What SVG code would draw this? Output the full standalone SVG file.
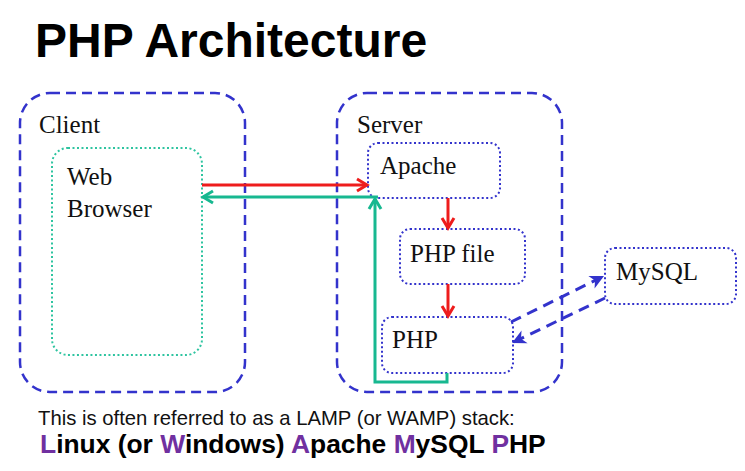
<svg xmlns="http://www.w3.org/2000/svg" width="745" height="471" viewBox="0 0 745 471">
<style>
.group{fill:none;stroke:#3333CC;stroke-width:2.5;stroke-dasharray:10 6}
.node{fill:#fff;stroke:#3333CC;stroke-width:2;stroke-dasharray:2 2.5}
.browser{fill:#fff;stroke:#2EC4A0;stroke-width:2;stroke-dasharray:2 2.5}
.lbl{font-family:"Liberation Serif","Times New Roman",serif;font-size:25px;fill:#111}
.red{fill:none;stroke:#EE1C1C;stroke-width:3;marker-end:url(#ar)}
.teal{fill:none;stroke:#17B890;stroke-width:3;marker-end:url(#at)}
.blue{fill:none;stroke:#3333CC;stroke-width:3;stroke-dasharray:11 7;marker-end:url(#ab)}
.sans{font-family:"Liberation Sans",Arial,sans-serif}
.pu{fill:#7030A0}
</style>
<defs>
<marker id="ar" viewBox="0 0 16 16" refX="13" refY="8" markerWidth="16" markerHeight="16" markerUnits="userSpaceOnUse" orient="auto">
<path d="M3,2 L13,8 L3,14" fill="none" stroke="#EE1C1C" stroke-width="3"/>
</marker>
<marker id="at" viewBox="0 0 16 16" refX="13" refY="8" markerWidth="16" markerHeight="16" markerUnits="userSpaceOnUse" orient="auto">
<path d="M3,2 L13,8 L3,14" fill="none" stroke="#17B890" stroke-width="3"/>
</marker>
<marker id="ab" viewBox="0 0 16 16" refX="15" refY="8" markerWidth="16" markerHeight="16" markerUnits="userSpaceOnUse" orient="auto">
<path d="M1,1 L15,8 L1,15 L5,8 Z" fill="#3333CC"/>
</marker>
</defs>
<rect width="745" height="471" fill="#fff"/>
<text x="35" y="57" class="sans" font-size="48" font-weight="bold" fill="#000">PHP Architecture</text>

<g id="client">
<rect class="group" x="20" y="93" width="225" height="299" rx="30"/>
<text class="lbl" x="39" y="133">Client</text>
</g>
<g id="server">
<rect class="group" x="337" y="93" width="225" height="299" rx="30"/>
<text class="lbl" x="357" y="133">Server</text>
</g>
<g id="browser">
<rect class="browser" x="52" y="148" width="150" height="207" rx="16"/>
<text class="lbl" x="67" y="185">Web</text>
<text class="lbl" x="67" y="217">Browser</text>
</g>
<g id="apache">
<rect class="node" x="368" y="143" width="132" height="55" rx="10"/>
<text class="lbl" x="380" y="174">Apache</text>
</g>
<g id="phpfile">
<rect class="node" x="400" y="229" width="125" height="55" rx="10"/>
<text class="lbl" x="410" y="262">PHP file</text>
</g>
<g id="php">
<rect class="node" x="382" y="317" width="131" height="56" rx="10"/>
<text class="lbl" x="392" y="348">PHP</text>
</g>
<g id="mysql">
<rect class="node" x="605" y="248" width="131" height="56" rx="10"/>
<text class="lbl" x="616" y="280">MySQL</text>
</g>

<g id="connectors">
<path class="red" d="M202,185 H367"/>
<path class="red" d="M448,198 V228"/>
<path class="red" d="M448,284 V316"/>
<path class="teal" d="M447,373 V382 H375 V199"/>
<path class="teal" d="M378,197 H203"/>
<path class="blue" d="M511,322 L604,276"/>
<path class="blue" d="M605,298 L512,343"/>
</g>

<text x="38" y="425" class="sans" font-size="20.3" fill="#111">This is often referred to as a LAMP (or WAMP) stack:</text>
<text x="40" y="453" class="sans" font-size="26.4" font-weight="bold" fill="#000"><tspan class="pu">L</tspan>inux (or <tspan class="pu">W</tspan>indows) <tspan class="pu">A</tspan>pache <tspan class="pu">M</tspan>ySQL <tspan class="pu">P</tspan>HP</text>
</svg>
